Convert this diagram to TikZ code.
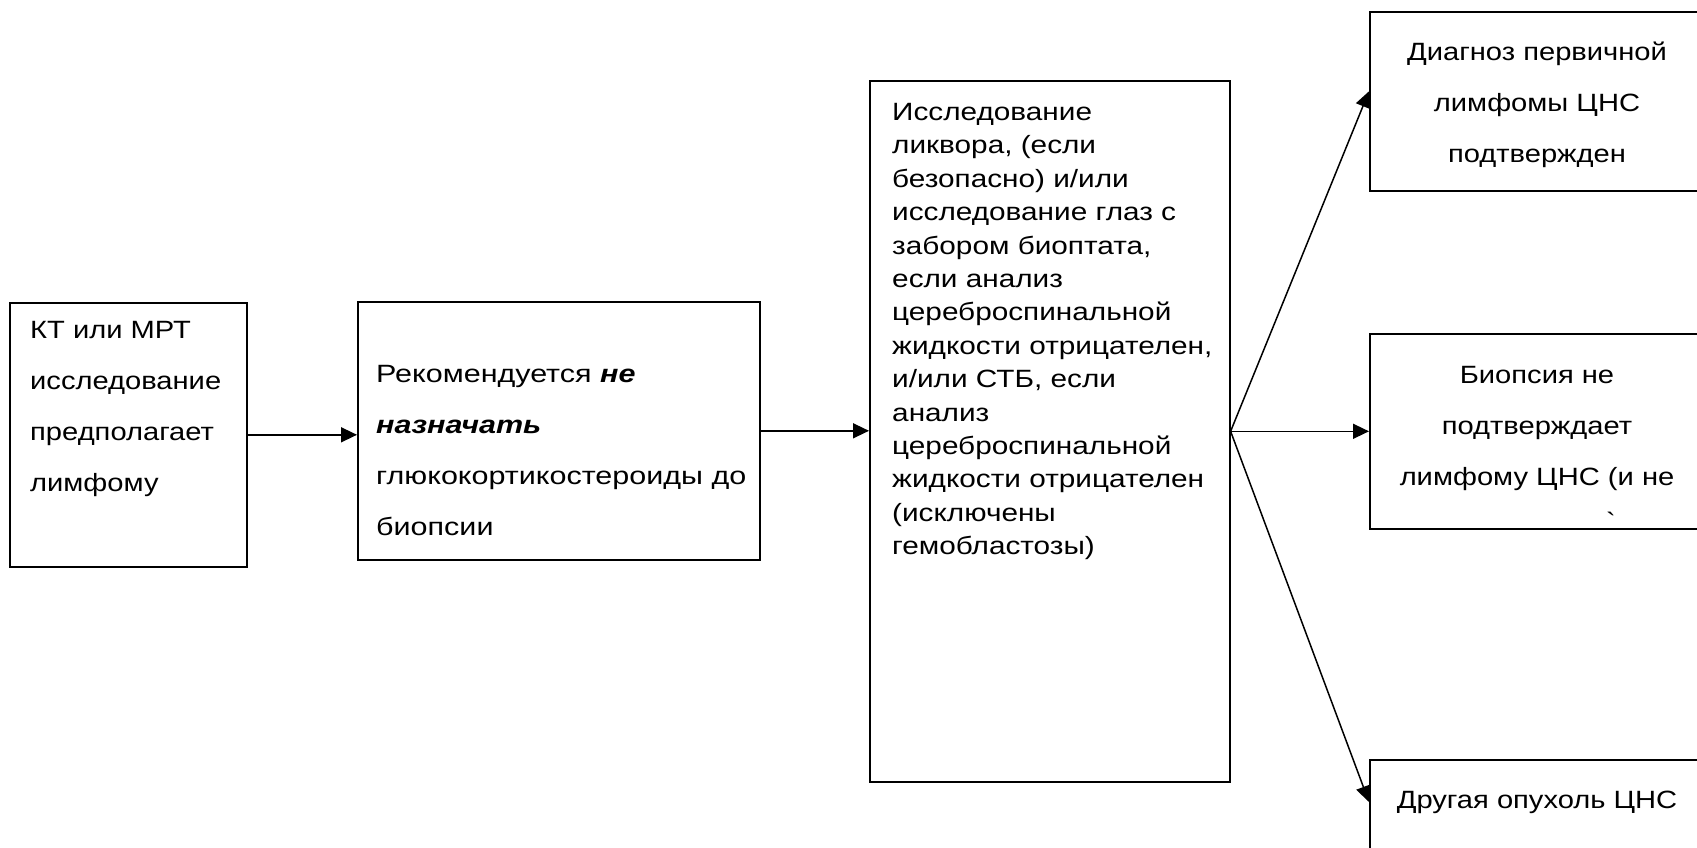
\documentclass[tikz,border=0pt]{standalone}
\usepackage{fontspec}
\setmainfont{Liberation Sans}[FakeStretch=1.165]
\newfontfamily\fontB{Liberation Sans}[FakeStretch=1.22]
\newfontfamily\fontC{Liberation Sans}[FakeStretch=1.19]
\newfontfamily\gravefont{Liberation Sans}[FakeStretch=1.165,Ligatures=TeXOff]
\usetikzlibrary{arrows.meta,calc}
\begin{document}
\begin{tikzpicture}[x=1pt,y=-1pt,
  box/.style={draw, line width=1.6pt, inner sep=0pt, anchor=north west},
  txt/.style={inner sep=0pt, font=\fontsize{25}{51}\selectfont, align=left, anchor=north west},
  ctxt/.style={inner sep=0pt, font=\fontsize{25}{51}\selectfont, align=center},
  arr/.style={line width=1.5pt, -{Triangle[length=16pt,width=15pt]}}]
\useasboundingbox (0,0) rectangle (1697,847);
\clip (0,0) rectangle (1697,847);
% boxes
\node[box, minimum width=237pt, minimum height=264pt] (b1) at (9,302) {};
\node[box, minimum width=402pt, minimum height=258pt] (b2) at (357,301) {};
\node[box, minimum width=360pt, minimum height=701pt] (b3) at (869,80) {};
\node[box, minimum width=336pt, minimum height=179pt] (b4) at (1369,11) {};
\node[box, minimum width=336pt, minimum height=195pt] (b5) at (1369,333) {};
\node[box, minimum width=336pt, minimum height=120pt] (b6) at (1369,759) {};
% texts
\node[txt] (t1) at (30,321) {КТ или МРТ\\исследование\\предполагает\\лимфому};
\node[txt, font=\fontB\fontsize{25}{51}\selectfont] (t2) at (376,365) {Рекомендуется \textbf{\textit{не}}\\\textbf{\textit{назначать}}\\глюкокортикостероиды до\\биопсии};
\node[txt, font=\fontC\fontsize{25}{33.4}\selectfont] (t3) at (892,103) {Исследование\\ликвора, (если\\безопасно) и/или\\исследование глаз с\\забором биоптата,\\если анализ\\цереброспинальной\\жидкости отрицателен,\\и/или СТБ, если\\анализ\\цереброспинальной\\жидкости отрицателен\\(исключены\\гемобластозы)};
\node[ctxt] (t4) at (1537,105) {Диагноз первичной\\лимфомы ЦНС\\подтвержден};
\node[ctxt] (t5) at (1537,428) {Биопсия не\\подтверждает\\лимфому ЦНС (и не};
\node[inner sep=0pt, anchor=north, font=\gravefont\fontsize{25}{30}\selectfont] (t5b) at (1611,512) {\symbol{96}};
\node[ctxt] (t6) at (1537,802) {Другая опухоль ЦНС};
% arrows
\draw[arr] (b1.east) -- (b1.east -| b2.west);
\draw[arr] (b2.east) -- (b2.east -| b3.west);
\draw[arr] (b3.east) -- ($(b4.west)+(0,-10)$);
\draw[arr] (b3.east) -- (b3.east -| b5.west);
\draw[arr] (b3.east) -- (t6.west -| b6.west);
\end{tikzpicture}
\end{document}
